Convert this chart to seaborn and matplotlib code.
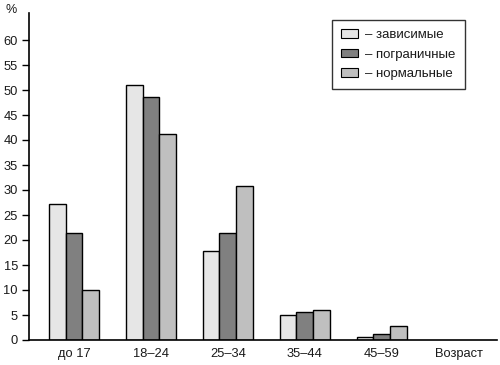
import matplotlib
matplotlib.use("Agg")
import matplotlib.pyplot as plt
import seaborn as sns
import pandas as pd
from matplotlib.patches import Patch

categories = ["до 17", "18–24", "25–34", "35–44", "45–59"]
axis_name = "Возраст"
series_names = ["зависимые", "пограничные", "нормальные"]
dependent = [27.2, 51.0, 17.8, 5.0, 0.6]
borderline = [21.4, 48.7, 21.4, 5.6, 1.3]
normal = [10.0, 41.3, 30.9, 6.0, 2.8]
yticks = [0, 5, 10, 15, 20, 25, 30, 35, 40, 45, 50, 55, 60]
colors = ["#e6e6e6", "#808080", "#bfbfbf"]

rows = []
for name, vals in zip(series_names, [dependent, borderline, normal]):
    for c, v in zip(categories, vals):
        rows.append({"age": c, "group": name, "value": v})
df = pd.DataFrame(rows)

sns.set_theme(style="white")
plt.rcParams["font.family"] = ["Liberation Sans", "DejaVu Sans"]

fig = plt.figure(figsize=(5, 3.65), dpi=100)
ax = fig.add_axes([29/500, 1-340/365, (497-29)/500, (340-13)/365])

sns.barplot(data=df, x="age", y="value", hue="group", order=categories,
            hue_order=series_names, palette=colors, width=0.65,
            edgecolor="black", linewidth=1.0, ax=ax, legend=False)

ax.set_xlim(-0.585, 5.5)
ax.set_ylim(0, 65.4)
ax.set_xticks(range(len(categories) + 1), categories + [axis_name])
ax.set_yticks(yticks)
ax.tick_params(axis="y", direction="out", length=5, width=1, color="black",
               labelsize=9.3, pad=3, left=True)
ax.tick_params(axis="x", length=0, labelsize=9.3, pad=6)
for lab in ax.get_xticklabels() + ax.get_yticklabels():
    lab.set_color("#1a1a1a")
ax.set_xlabel("")
ax.set_ylabel("")
sns.despine(ax=ax)
for s in ["left", "bottom"]:
    ax.spines[s].set_color("black")
    ax.spines[s].set_linewidth(1.2)

fig.text(5/500, 1-10/365, "%", fontsize=9, color="#1a1a1a", va="center", ha="left")

handles = [Patch(facecolor=c, edgecolor="black", linewidth=0.8) for c in colors]
labels = ["– " + n for n in series_names]
leg = fig.legend(handles, labels, loc="upper left",
                 bbox_to_anchor=(332/500, 1-20/365), bbox_transform=fig.transFigure,
                 frameon=True, fancybox=False, edgecolor="black", fontsize=9.5,
                 handlelength=1.3, handleheight=0.6, handletextpad=0.5,
                 borderpad=0.7, labelspacing=0.56, borderaxespad=0)
leg.get_frame().set_linewidth(1.0)
for t in leg.get_texts():
    t.set_color("#1a1a1a")

fig.savefig("out.png", dpi=100)
